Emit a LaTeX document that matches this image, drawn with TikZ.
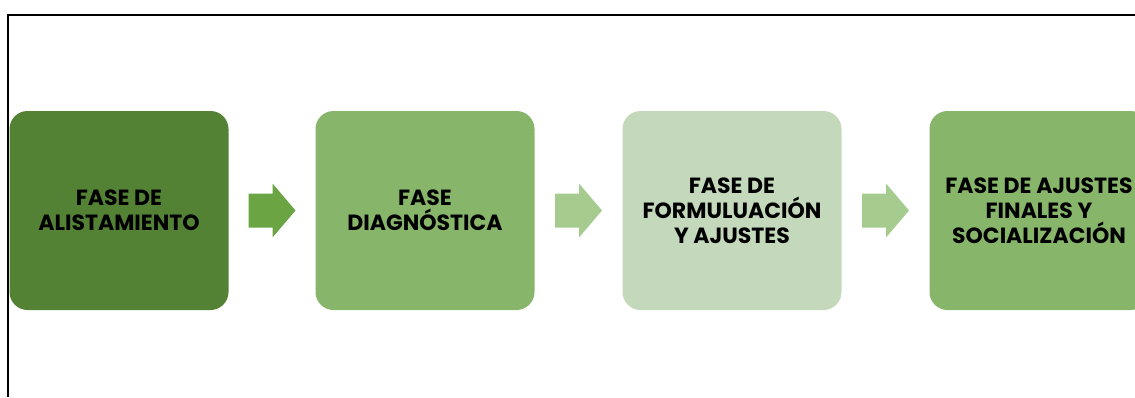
\documentclass[tikz,border=0pt]{standalone}
\usepackage{fontspec}
\setmainfont{Poppins}
\usetikzlibrary{calc}
\begin{document}
\begin{tikzpicture}[x=1pt,y=-1pt,
  phase/.style={rounded corners=18pt,minimum width=219pt,minimum height=199pt,inner sep=0pt,
    align=center,font=\fontsize{22}{25}\selectfont\bfseries,text=black}]
\definecolor{c1}{HTML}{548235}
\definecolor{c2}{HTML}{87B66B}
\definecolor{c3}{HTML}{C4D8BB}
\definecolor{a1}{HTML}{6AA443}
\definecolor{a2}{HTML}{A6CB8F}
\useasboundingbox (0,0) rectangle (1135,397);
\clip (0,0) rectangle (1135,397);
\draw[line width=1.6pt] (8,397) -- (8,15) -- (1135,15);
\node[phase,fill=c1] (b1) at (119,210.5) {FASE DE\\ALISTAMIENTO};
\node[phase,fill=c2] (b2) at (425,210.5) {FASE\\DIAGNÓSTICA};
\node[phase,fill=c3] (b3) at (732,210.5) {FASE DE\\FORMULUACIÓN\\Y AJUSTES};
\node[phase,fill=c2] (b4) at (1039,210.5) {FASE DE AJUSTES\\FINALES Y\\SOCIALIZACIÓN};
\foreach \s/\t/\c in {b1/b2/a1,b2/b3/a2,b3/b4/a2}{
  \path (\s.east) -- (\t.west) coordinate[pos=0.5] (m\s);
  \fill[\c] ($(m\s)+(-23.5,-17)$) -- ++(24,0) -- ++(0,-10) -- ++(23,27) -- ++(-23,27) -- ++(0,-10) -- ++(-24,0) -- cycle;
}
\end{tikzpicture}
\end{document}
